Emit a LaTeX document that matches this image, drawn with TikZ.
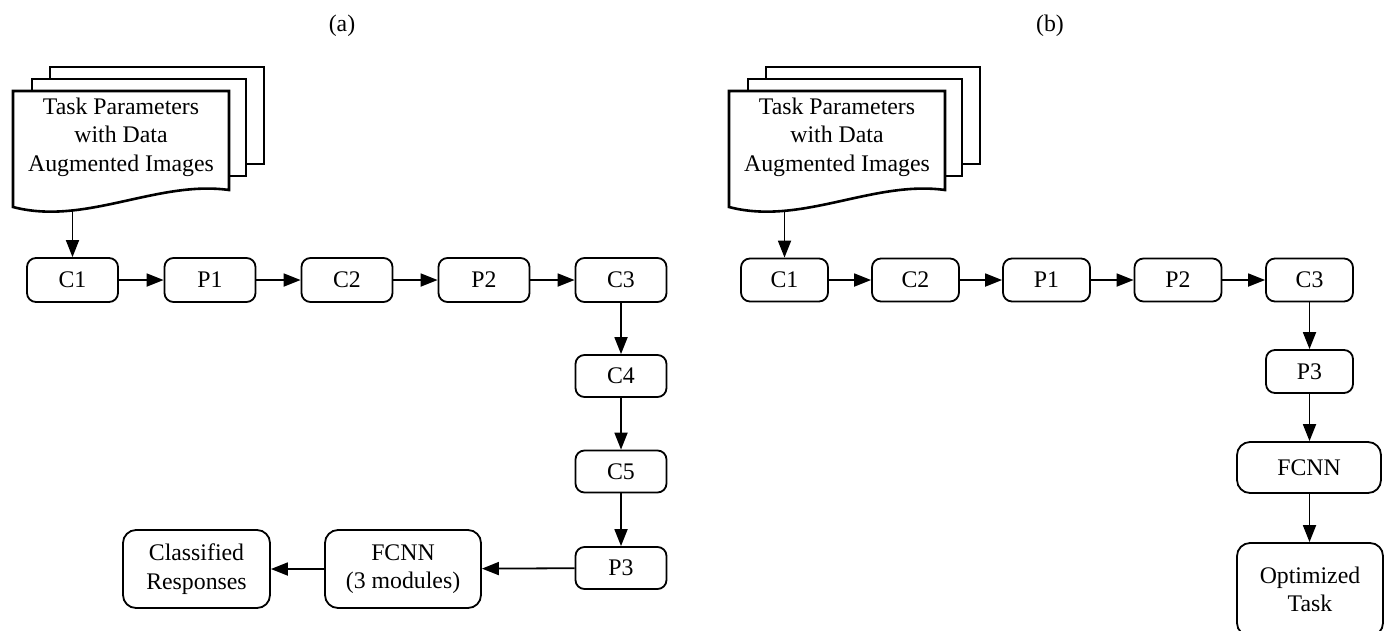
\documentclass[tikz,border=0pt]{standalone}
\usepackage{fontspec}
\setmainfont{Liberation Serif}
\usetikzlibrary{arrows.meta}

\tikzset{
  blk/.style={draw, line width=1.8pt, rounded corners=9pt, fill=white,
    minimum width=91pt, minimum height=44pt, inner sep=0pt, align=center},
  bigblk/.style={blk, rounded corners=13pt},
  flow/.style={line width=1.8pt, -{Triangle[length=17pt,width=13pt]}},
  sheet/.style={draw, line width=2.6pt, fill=white, line join=miter},
  lbl/.style={inner sep=0pt, align=center}
}

\begin{document}
\begin{tikzpicture}[x=1pt, y=-1pt, font=\fontsize{23.8}{28.5}\selectfont]
\useasboundingbox (0,0) rectangle (1389,630);

% panel titles
\node[lbl] (ta) at (342,26) {(a)};
\node[lbl] (tb) at (1050,26) {(b)};

% stacked input documents, panel (a)
\begin{scope}[shift={(0,0)}]
  \path[sheet] (50,67) rectangle (264,164);
  \path[sheet] (32,79) rectangle (246,176);
  \path[sheet] (13,91) -- (229,91) -- (229,190)
     .. controls (157,180) and (85,226) .. (13,207) -- cycle;
\end{scope}
\node[lbl] (docA) at (121,137) {Task Parameters\\with Data\\Augmented Images};
\coordinate (docAbot) at (72.5,211);

% stacked input documents, panel (b)
\begin{scope}[shift={(716,0)}]
  \path[sheet] (50,67) rectangle (264,164);
  \path[sheet] (32,79) rectangle (246,176);
  \path[sheet] (13,91) -- (229,91) -- (229,190)
     .. controls (157,180) and (85,226) .. (13,207) -- cycle;
\end{scope}
\node[lbl] (docB) at (837,137) {Task Parameters\\with Data\\Augmented Images};
\coordinate (docBbot) at (784.5,211);

% ---- panel (a) pipeline ----
\node[blk] (aC1) at (72.5,280) {C1};
\node[blk] (aP1) at (210,280) {P1};
\node[blk] (aC2) at (347,280) {C2};
\node[blk] (aP2) at (484,280) {P2};
\node[blk] (aC3) at (621,280) {C3};
\node[blk, minimum height=42pt] (aC4) at (621,376) {C4};
\node[blk, minimum height=42pt] (aC5) at (621,471.5) {C5};
\node[blk, minimum height=42pt] (aP3) at (621,568) {P3};
\node[bigblk, minimum width=156pt, minimum height=78pt] (aF) at (403,569) {FCNN\\(3 modules)};
\node[bigblk, minimum width=147pt, minimum height=78pt] (aR) at (196.5,569) {Classified\\Responses};

\draw[flow] (docAbot) -- (aC1.north);
\draw[flow] (aC1) -- (aP1);
\draw[flow] (aP1) -- (aC2);
\draw[flow] (aC2) -- (aP2);
\draw[flow] (aP2) -- (aC3);
\draw[flow] (aC3) -- (aC4);
\draw[flow] (aC4) -- (aC5);
\draw[flow] (aC5) -- (aP3);
\draw[flow] (aP3) -- (aF);
\draw[flow] (aF) -- (aR);

% ---- panel (b) pipeline ----
\node[blk, minimum width=87pt, minimum height=43pt] (bC1) at (784.5,280) {C1};
\node[blk, minimum width=87pt, minimum height=43pt] (bC2) at (915.5,280) {C2};
\node[blk, minimum width=87pt, minimum height=43pt] (bP1) at (1046.5,280) {P1};
\node[blk, minimum width=87pt, minimum height=43pt] (bP2) at (1178,280) {P2};
\node[blk, minimum width=87pt, minimum height=43pt] (bC3) at (1309.5,280) {C3};
\node[blk, minimum width=87pt, minimum height=43pt] (bP3) at (1309.5,371.5) {P3};
\node[bigblk, minimum width=144pt, minimum height=51pt] (bF) at (1309,467.5) {FCNN};
\node[bigblk, minimum width=146pt, minimum height=93pt] (bO) at (1310,589.5) {Optimized\\Task};

\draw[flow] (docBbot) -- (bC1.north);
\draw[flow] (bC1) -- (bC2);
\draw[flow] (bC2) -- (bP1);
\draw[flow] (bP1) -- (bP2);
\draw[flow] (bP2) -- (bC3);
\draw[flow] (bC3) -- (bP3);
\draw[flow] (bP3.south) -- (bP3.south |- bF.north);
\draw[flow] (bF.south -| bP3.south) -- (bP3.south |- bO.north);
\end{tikzpicture}
\end{document}
